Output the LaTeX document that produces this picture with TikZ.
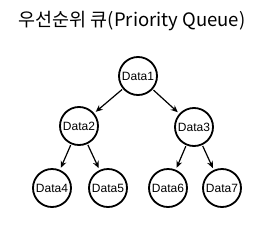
\documentclass[tikz,border=0pt]{standalone}
\usepackage{fontspec}
\setmainfont{Liberation Sans}
\newfontfamily\krfont{Noto Sans CJK KR}
\usetikzlibrary{arrows.meta}
\tikzset{
  datanode/.style={circle, draw, line width=1.8pt, minimum size=38pt, inner sep=0pt,
    font=\fontsize{12}{14}\selectfont},
  link/.style={-{Stealth[length=7pt,width=6pt]}, line width=1.2pt, shorten >=2pt, shorten <=1pt}
}
\begin{document}
\begin{tikzpicture}[x=1pt,y=1pt]
\useasboundingbox (0,0) rectangle (265,226);
% title
\node (title) at (132,205) {\krfont\fontsize{18.5}{22}\selectfont 우선순위 큐(Priority Queue)};
% tree nodes
\node[datanode] (d1) at (138,150) {Data1};
\node[datanode] (d2) at (79,100) {Data2};
\node[datanode] (d3) at (194,99) {Data3};
\node[datanode] (d4) at (52,38) {Data4};
\node[datanode] (d5) at (108,38) {Data5};
\node[datanode] (d6) at (168,38) {Data6};
\node[datanode] (d7) at (222,38) {Data7};
% links
\draw[link] (d1) -- (d2);
\draw[link] (d1) -- (d3);
\draw[link] (d2) -- (d4);
\draw[link] (d2) -- (d5);
\draw[link] (d3) -- (d6);
\draw[link] (d3) -- (d7);
\end{tikzpicture}
\end{document}
